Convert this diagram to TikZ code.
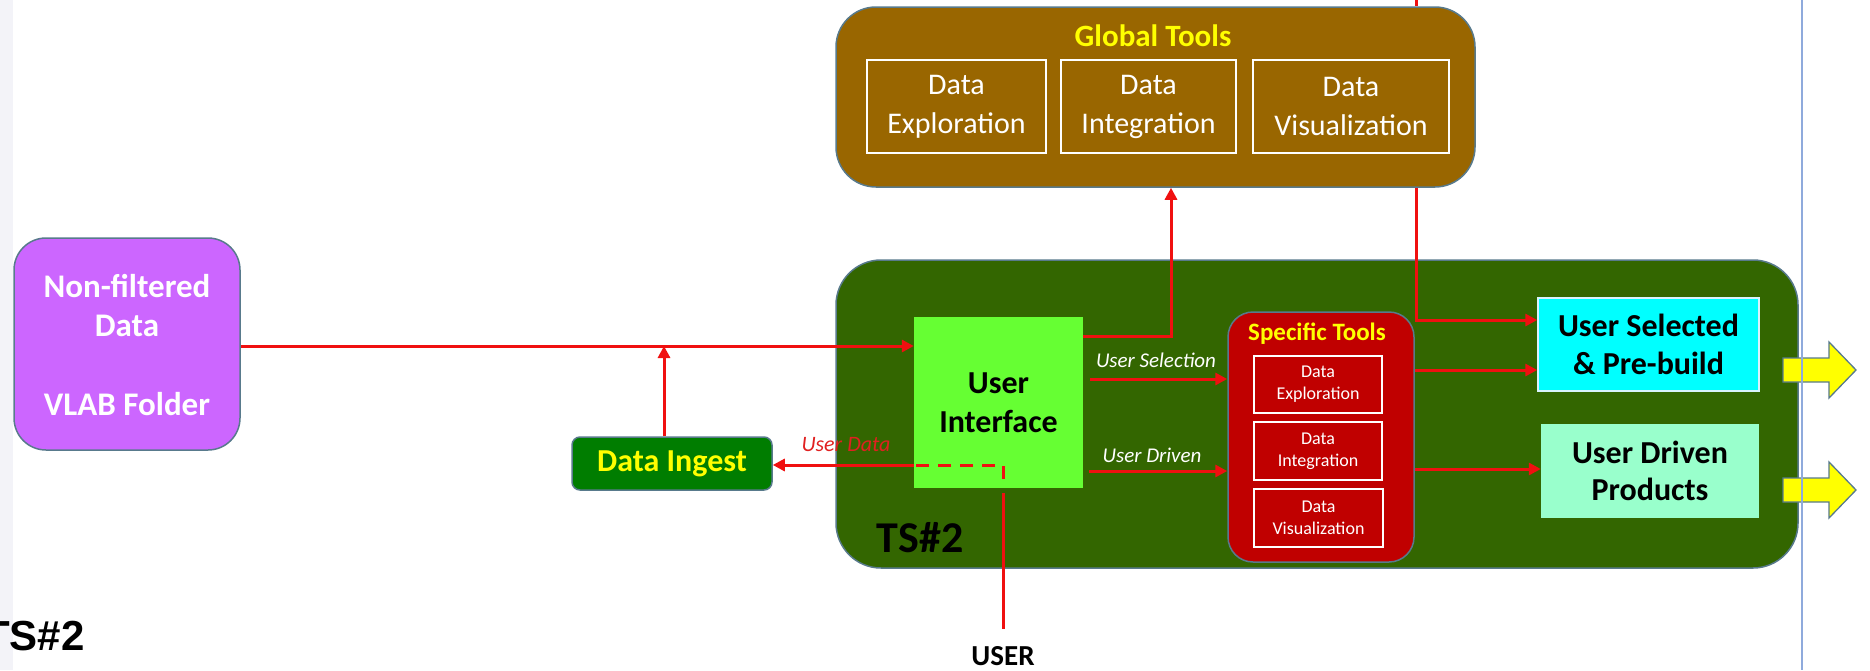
\documentclass[tikz,border=0pt]{standalone}
\usepackage{fontspec}
\setmainfont{Carlito}
\newfontfamily\arialb{Liberation Sans}
\usetikzlibrary{arrows.meta}
\newcommand{\myfs}[2]{\fontsize{#1}{#2}\selectfont}
\definecolor{stripc}{HTML}{F3F3F8}
\definecolor{nfpurple}{HTML}{CC66FF}
\definecolor{gbrown}{HTML}{996600}
\definecolor{tsgreen}{HTML}{336600}
\definecolor{uigreen}{HTML}{66FF33}
\definecolor{digreen}{HTML}{007D00}
\definecolor{spred}{HTML}{C00000}
\definecolor{uscyan}{HTML}{00FFFF}
\definecolor{udpgreen}{HTML}{99FFCC}
\definecolor{tyellow}{HTML}{FFFF00}
\definecolor{linered}{HTML}{F01010}
\definecolor{edgec}{HTML}{587A8C}
\definecolor{vlinec}{HTML}{8FAADC}
\definecolor{udlabel}{HTML}{E02020}
\begin{document}
\begin{tikzpicture}[x=1pt,y=-1pt,
  edge/.style={draw=edgec,line width=1.5pt},
  plain/.style={inner sep=0pt},
  redl/.style={draw=linered,line width=3pt},
  tip/.style={-{Triangle[length=12pt,width=12pt]}},
  wbox/.style={draw=white,line width=1.5pt,inner sep=0pt,align=center,text=white},
  ylarrow/.style={edge,fill=tyellow,line width=1.3pt},
  lbl/.style={font=\itshape\myfs{21}{25},text=white}]
\useasboundingbox (0,0) rectangle (1870,670);
\fill[stripc] (0,0) rectangle (13,670);

% Non-filtered data
\node[edge,plain,fill=nfpurple,rounded corners=32pt,minimum width=226pt,minimum height=212pt] (nf) at (127,344) {};
\node[font=\bfseries\myfs{33}{39},text=white,anchor=base] (nft1) at (127,297) {Non-filtered};
\node[font=\bfseries\myfs{33}{39},text=white,anchor=base] (nft2) at (127,336) {Data};
\node[font=\bfseries\myfs{33}{39},text=white,anchor=base] (nft3) at (127,415) {VLAB Folder};

% TS#2 container
\node[edge,plain,fill=tsgreen,rounded corners=45pt,minimum width=962pt,minimum height=308pt] (ts) at (1317,414) {};
\node[font=\bfseries\myfs{44}{50},anchor=base] (tslbl) at (920,552) {TS\#2};

% Global tools
\node[edge,plain,fill=gbrown,rounded corners=40pt,minimum width=639pt,minimum height=180pt] (gt) at (1155.5,97) {};
\node[font=\bfseries\myfs{31}{36},text=tyellow] (gtt) at (1153,36) {Global Tools};
\node[wbox,font=\myfs{30}{39},minimum width=179pt,minimum height=93pt] (gb1) at (956.5,106.5) {Data\\Exploration};
\node[wbox,font=\myfs{30}{39},minimum width=175pt,minimum height=93pt] (gb2) at (1148.5,106.5) {Data\\Integration};
\node[wbox,font=\myfs{30}{39},minimum width=196pt,minimum height=93pt] (gb3) at (1351,106.5) {Data\\Visualization};

% User interface
\node[plain,fill=uigreen,minimum width=169pt,minimum height=171pt,font=\bfseries\myfs{32}{39},align=center] (ui) at (998.5,402.5) {User\\Interface};

% Specific tools
\node[edge,plain,fill=spred,rounded corners=25pt,minimum width=186pt,minimum height=250pt] (sp) at (1321,437) {};
\node[font=\bfseries\myfs{25}{30},text=tyellow] (spt) at (1317,334) {Specific Tools};
\node[wbox,font=\myfs{18}{22},minimum width=128pt,minimum height=57pt] (sb1) at (1318,384.5) {Data\\Exploration};
\node[wbox,font=\myfs{18}{22},minimum width=128pt,minimum height=58pt] (sb2) at (1318,451) {Data\\Integration};
\node[wbox,font=\myfs{18}{22},minimum width=129pt,minimum height=58pt] (sb3) at (1318.5,518) {Data\\Visualization};

% Products
\node[draw=white!85!cyan,line width=1.5pt,plain,fill=uscyan,minimum width=221pt,minimum height=93pt,font=\bfseries\myfs{32}{38},align=center] (us) at (1648.5,344.5) {User Selected\\\& Pre-build};
\node[plain,fill=udpgreen,minimum width=218pt,minimum height=94pt,font=\bfseries\myfs{32}{37},align=center] (udp) at (1650,471) {User Driven\\Products};

% Data ingest
\node[edge,plain,fill=digreen,rounded corners=8pt,minimum width=200pt,minimum height=53pt,font=\bfseries\myfs{32}{36},text=tyellow] (di) at (672,463.5) {Data Ingest};

% USER
\node[font=\bfseries\myfs{29}{34},anchor=base,inner xsep=2pt,inner ysep=17pt] (user) at (1003,665) {USER};

% connectors
\coordinate (mainy) at (0,346);
\draw[redl,tip] (nf.east |- mainy) -- (ui.west |- mainy);
\coordinate (dix) at (664,0);
\draw[redl,tip] (di.north -| dix) -- (dix |- mainy);
\coordinate (ugx) at (1171,336);
\draw[redl,tip] (ui.east |- ugx) -- (ugx) -- (ugx |- gt.south);
\coordinate (topx) at (1416,0);
\draw[redl] (topx) -- (topx |- gt.north);
\coordinate (gux) at (1416,320);
\draw[redl,tip] (gux |- gt.south) -- (gux) -- (us.west |- gux);
\coordinate (s1) at (1090,379);
\draw[redl,tip] (s1) -- (sp.west |- s1);
\coordinate (s2) at (1089,471);
\draw[redl,tip] (s2) -- (sp.west |- s2);
\coordinate (s3) at (0,370);
\draw[redl,tip] (sp.east |- s3) -- (us.west |- s3);
\coordinate (s4) at (0,469);
\draw[redl,tip] (sp.east |- s4) -- (udp.west |- s4);
\draw[redl] (user.north) -- ([yshift=-5pt]user.north |- ui.south);
\coordinate (dj) at (1003,465);
\draw[redl,dash pattern=on 13pt off 9pt] ([yshift=-14pt]dj) -- (dj) -- (ui.west |- dj);
\draw[redl,tip] (ui.west |- dj) -- (di.east |- dj);

% labels
\node[lbl] (lsel) at (1156,360) {User Selection};
\node[lbl] (ldrv) at (1152,455) {User Driven};
\node[font=\itshape\myfs{22}{26},text=udlabel] (ldat) at (846,445) {User Data};

% output arrows
\draw[ylarrow] (1783,358) -- (1829,358) -- (1829,342) -- (1856,370) -- (1829,398) -- (1829,382) -- (1783,382) -- cycle;
\draw[ylarrow] (1783,478) -- (1829,478) -- (1829,462) -- (1856,490) -- (1829,518) -- (1829,502) -- (1783,502) -- cycle;

\draw[vlinec,line width=1.2pt] (1802,0) -- (1802,670);

\node[font=\arialb\bfseries\myfs{42}{48},anchor=base west,inner sep=0pt] (tsb) at (-16,650) {TS\#2};
\end{tikzpicture}
\end{document}
